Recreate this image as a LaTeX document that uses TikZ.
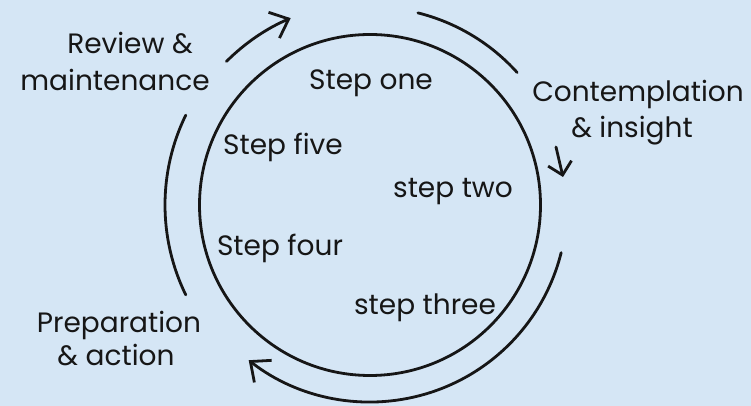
\documentclass[tikz,border=0pt]{standalone}
\usepackage{fontspec}
\setmainfont{Poppins}
\usetikzlibrary{arrows.meta}
\definecolor{bgblue}{RGB}{213,230,245}
\definecolor{ink}{RGB}{22,22,22}
\begin{document}
\begin{tikzpicture}[x=1pt,y=1pt,
  inkline/.style={draw=ink, line width=2.8pt, line cap=round},
  barb/.style={-{Straight Barb[length=16pt,width=28pt]}},
  smallbarb/.style={-{Straight Barb[length=12pt,width=24pt]}},
  lbl/.style={font=\fontsize{28}{32}\selectfont, text=ink, anchor=base, inner sep=0pt},
]
\fill[bgblue] (0,0) rectangle (751,406);
\useasboundingbox (0,0) rectangle (751,406);
\coordinate (c) at (370,201);
\node[inkline, circle, minimum size=341pt, inner sep=0pt] (cycle) at (c) {};

% outer arcs
\draw[inkline] ([shift={(76:198)}]c) coordinate (a1s) arc[start angle=76, end angle=42, radius=198] coordinate (a1e);
\draw[inkline] ([shift={(154:205)}]c) coordinate (a2s) arc[start angle=154, end angle=206, radius=205] coordinate (a2e);
\draw[inkline, barb] ([shift={(135:203)}]c) coordinate (a3s) arc[start angle=135, end angle=113, radius=203] coordinate (a3e);
\draw[inkline, barb] ([shift={(-14:197)}]c) coordinate (a4s) arc[start angle=-14, end angle=-128, radius=197] coordinate (a4e);
\coordinate (d1) at (556,259);
\coordinate (d2) at (563,229);
\draw[inkline, smallbarb] (d1) -- (d2);

% labels
\node[lbl] (rev1) at (130,352) {Review \&};
\node[lbl] (rev2) at (115,315) {maintenance};
\node[lbl] (con1) at (638,304) {Contemplation};
\node[lbl] (con2) at (632,268) {\& insight};
\node[lbl] (pre1) at (119,73) {Preparation};
\node[lbl] (pre2) at (116,40) {\& action};
\node[lbl] (s1) at (371,316) {Step one};
\node[lbl] (s5) at (283,251) {Step five};
\node[lbl] (s2) at (453,208) {step two};
\node[lbl] (s4) at (280,150) {Step four};
\node[lbl] (s3) at (425,91) {step three};
\end{tikzpicture}
\end{document}
